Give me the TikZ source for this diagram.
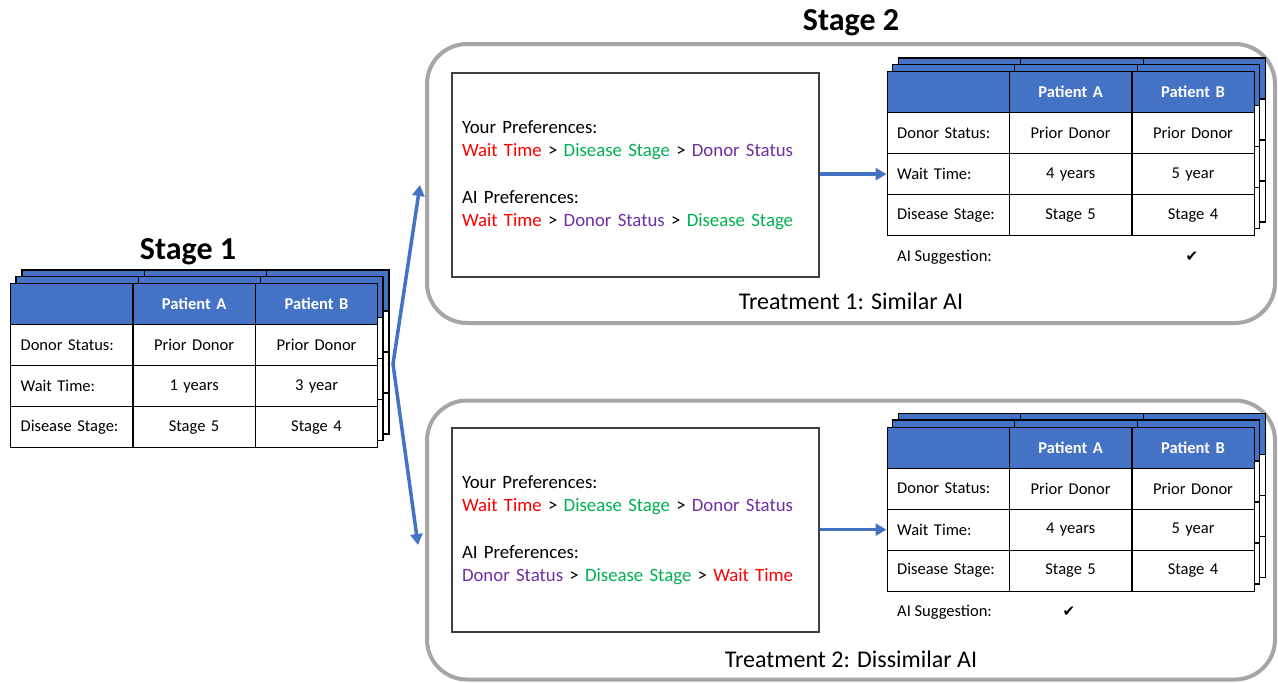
\documentclass[tikz,border=0pt]{standalone}
\usepackage{fontspec}
\setmainfont{Carlito}
\newfontfamily\symfont{DejaVu Sans}
\usetikzlibrary{arrows.meta}
\definecolor{hdrblue}{HTML}{4472C4}
\definecolor{boxgray}{HTML}{A6A6A6}
\definecolor{prefred}{HTML}{FF0000}
\definecolor{prefgreen}{HTML}{00B050}
\definecolor{prefpurple}{HTML}{7030A0}
\definecolor{edgegray}{HTML}{404040}
\tikzset{
  cellbase/.style={draw=black, line width=1.3pt, anchor=north west,
    minimum width=122.3pt, minimum height=41pt, inner xsep=10pt, inner ysep=0pt,
    text width=102.3pt, font=\fontsize{16.5}{19}\selectfont},
  hcell/.style={cellbase, fill=hdrblue, text=white, align=center,
    font=\fontsize{16.5}{19}\selectfont\bfseries},
  lcell/.style={cellbase, fill=white, align=left},
  vcell/.style={cellbase, fill=white, align=center},
  backline/.style={draw=black, line width=1.3pt},
  prefbox/.style={draw=edgegray, line width=1.3pt, fill=white,
    minimum width=367pt, minimum height=204pt, inner xsep=10pt,
    text width=347pt, align=left, font=\fontsize{18.8}{23}\selectfont},
  tbox/.style={draw=boxgray, line width=4pt, rounded corners=40pt,
    minimum width=848pt, minimum height=279pt},
  tlabel/.style={anchor=base, inner sep=0pt, font=\fontsize{24}{28}\selectfont},
  title/.style={anchor=base, inner sep=0pt, font=\fontsize{32}{36}\selectfont\bfseries},
  sugg/.style={anchor=base west, inner sep=0pt, font=\fontsize{16.5}{19}\selectfont},
  checkmk/.style={anchor=base, inner sep=0pt, font=\symfont\fontsize{15}{19}\selectfont},
  flow/.style={draw=hdrblue, line width=3.5pt, -{Triangle[length=11pt,width=12pt]}},
}
\newcommand\patienttable[7]{%
  \begin{scope}[shift={(#2,#3)}]
    \foreach \dx/\dy in {12/-13,6/-6.5}{
      \begin{scope}[shift={(\dx,\dy)}]
        \filldraw[backline, fill=hdrblue] (0,0) rectangle (367,41);
        \filldraw[backline, fill=white] (0,41) rectangle (367,164);
        \draw[backline] (122.3,0) -- (122.3,164) (244.7,0) -- (244.7,164)
          (0,82) -- (367,82) (0,123) -- (367,123);
      \end{scope}}
    \node[hcell] (#1-h0) at (0,0) {};
    \node[hcell] (#1-h1) at (122.3,0) {Patient A};
    \node[hcell] (#1-h2) at (244.7,0) {Patient B};
    \node[lcell] (#1-d0) at (0,41) {Donor Status:};
    \node[vcell] (#1-d1) at (122.3,41) {Prior Donor};
    \node[vcell] (#1-d2) at (244.7,41) {Prior Donor};
    \node[lcell] (#1-w0) at (0,82) {Wait Time:};
    \node[vcell] (#1-w1) at (122.3,82) {#4};
    \node[vcell] (#1-w2) at (244.7,82) {#5};
    \node[lcell] (#1-s0) at (0,123) {Disease Stage:};
    \node[vcell] (#1-s1) at (122.3,123) {#6};
    \node[vcell] (#1-s2) at (244.7,123) {#7};
  \end{scope}}
\begin{document}
\begin{tikzpicture}[x=1pt,y=-1pt]
\useasboundingbox (0,0) rectangle (1278,683);
% treatment frames
\node[tbox] (t1) at (851,183.5) {};
\node[tbox] (t2) at (851,540) {};
\node[tlabel] (t1lab) at (851,309) {Treatment 1: Similar AI};
\node[tlabel] (t2lab) at (851,667) {Treatment 2: Dissimilar AI};
% titles
\node[title] (st1) at (188,259) {Stage 1};
\node[title] (st2) at (851,30) {Stage 2};
% stage 1 table
\patienttable{s1}{10}{283}{1 years}{3 year}{Stage 5}{Stage 4}
% stage 2 tables
\patienttable{ta}{886.5}{71}{4 years}{5 year}{Stage 5}{Stage 4}
\patienttable{tb}{886.5}{426.5}{4 years}{5 year}{Stage 5}{Stage 4}
% preference boxes
\node[prefbox] (pref1) at (635.5,175) {Your Preferences:\\
  {\color{prefred}Wait Time} > {\color{prefgreen}Disease Stage} > {\color{prefpurple}Donor Status}\\[24pt]
  AI Preferences:\\
  {\color{prefred}Wait Time} > {\color{prefpurple}Donor Status} > {\color{prefgreen}Disease Stage}};
\node[prefbox] (pref2) at (635.5,530) {Your Preferences:\\
  {\color{prefred}Wait Time} > {\color{prefgreen}Disease Stage} > {\color{prefpurple}Donor Status}\\[24pt]
  AI Preferences:\\
  {\color{prefpurple}Donor Status} > {\color{prefgreen}Disease Stage} > {\color{prefred}Wait Time}};
% AI suggestions
\node[sugg] (sugA) at (897,261) {AI Suggestion:};
\node[checkmk] (chkA) at (1192,261) {✔};
\node[sugg] (sugB) at (897,616) {AI Suggestion:};
\node[checkmk] (chkB) at (1069,616) {✔};
% arrows
\draw[flow] (pref1.east |- ta-w0.west) -- (ta-w0.west);
\draw[flow] (pref2.east |- tb-w0.west) -- (tb-w0.west);
\coordinate (split) at (393,364);
\coordinate (upend) at (420,185);
\coordinate (downend) at (418,545);
\draw[flow] (split) -- (upend);
\draw[flow] (split) -- (downend);
\end{tikzpicture}
\end{document}
